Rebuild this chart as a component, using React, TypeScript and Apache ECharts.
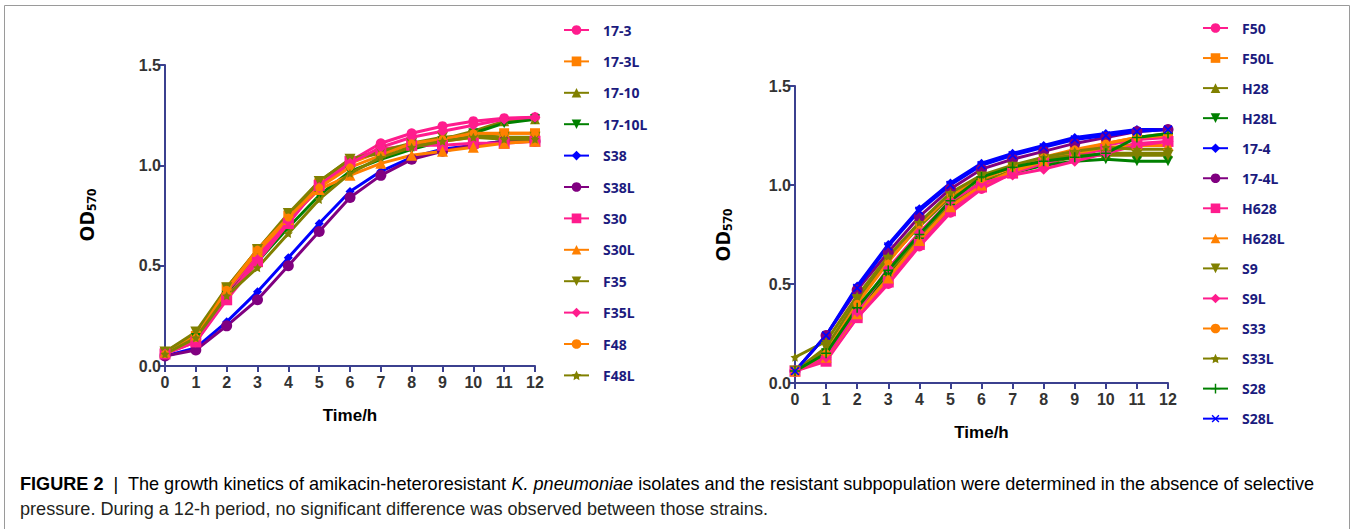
import React, { useEffect, useRef } from "react";
import * as echarts from "echarts";

const hours = [0, 1, 2, 3, 4, 5, 6, 7, 8, 9, 10, 11, 12];
const yTicks = [0, 0.5, 1.0, 1.5];

// Left panel
const leftNames = ["17-3", "17-3L", "17-10", "17-10L", "S38", "S38L", "S30", "S30L", "F35", "F35L", "F48", "F48L"];
const v17_3 = [0.06, 0.13, 0.36, 0.55, 0.73, 0.9, 1.02, 1.11, 1.16, 1.195, 1.22, 1.235, 1.24];
const v17_3L = [0.07, 0.15, 0.39, 0.58, 0.75, 0.91, 1.01, 1.07, 1.1, 1.12, 1.14, 1.16, 1.16];
const v17_10 = [0.07, 0.16, 0.38, 0.57, 0.75, 0.92, 1.03, 1.06, 1.1, 1.13, 1.17, 1.22, 1.23];
const v17_10L = [0.06, 0.14, 0.35, 0.52, 0.69, 0.85, 0.97, 1.03, 1.08, 1.12, 1.16, 1.21, 1.23];
const vS38 = [0.05, 0.09, 0.22, 0.37, 0.54, 0.71, 0.87, 0.97, 1.04, 1.08, 1.1, 1.12, 1.13];
const vS38L = [0.05, 0.08, 0.2, 0.33, 0.5, 0.67, 0.84, 0.95, 1.03, 1.07, 1.1, 1.12, 1.12];
const vS30 = [0.06, 0.12, 0.33, 0.52, 0.71, 0.9, 1.02, 1.08, 1.1, 1.1, 1.11, 1.11, 1.12];
const vS30L = [0.07, 0.15, 0.38, 0.57, 0.73, 0.88, 0.95, 1.01, 1.05, 1.07, 1.09, 1.11, 1.12];
const vF35 = [0.07, 0.17, 0.39, 0.58, 0.76, 0.92, 1.03, 1.07, 1.11, 1.14, 1.15, 1.14, 1.14];
const vF35L = [0.06, 0.12, 0.34, 0.53, 0.72, 0.89, 1.01, 1.09, 1.14, 1.17, 1.2, 1.23, 1.24];
const vF48 = [0.06, 0.14, 0.38, 0.58, 0.74, 0.89, 0.99, 1.05, 1.11, 1.13, 1.16, 1.16, 1.16];
const vF48L = [0.06, 0.14, 0.35, 0.49, 0.66, 0.83, 0.96, 1.04, 1.09, 1.12, 1.14, 1.13, 1.13];
const leftValues = [v17_3, v17_3L, v17_10, v17_10L, vS38, vS38L, vS30, vS30L, vF35, vF35L, vF48, vF48L];

// Right panel
const rightNames = ["F50", "F50L", "H28", "H28L", "17-4", "17-4L", "H628", "H628L", "S9", "S9L", "S33", "S33L", "S28", "S28L"];
const vF50 = [0.06, 0.12, 0.33, 0.5, 0.69, 0.86, 0.98, 1.06, 1.12, 1.16, 1.2, 1.23, 1.24];
const vF50L = [0.06, 0.13, 0.34, 0.52, 0.71, 0.88, 1.0, 1.08, 1.13, 1.17, 1.21, 1.24, 1.25];
const vH28 = [0.06, 0.16, 0.37, 0.55, 0.73, 0.9, 1.02, 1.07, 1.11, 1.14, 1.16, 1.16, 1.16];
const vH28L = [0.06, 0.15, 0.36, 0.54, 0.71, 0.88, 1.01, 1.06, 1.1, 1.12, 1.13, 1.12, 1.12];
const v17_4 = [0.06, 0.24, 0.49, 0.7, 0.88, 1.01, 1.11, 1.16, 1.2, 1.24, 1.26, 1.28, 1.28];
const v17_4L = [0.06, 0.24, 0.47, 0.66, 0.84, 0.98, 1.08, 1.13, 1.17, 1.21, 1.24, 1.27, 1.28];
const vH628 = [0.06, 0.11, 0.33, 0.51, 0.7, 0.87, 0.99, 1.06, 1.11, 1.15, 1.18, 1.21, 1.22];
const vH628L = [0.06, 0.13, 0.35, 0.53, 0.72, 0.89, 1.0, 1.07, 1.12, 1.16, 1.19, 1.2, 1.2];
const vS9 = [0.06, 0.18, 0.42, 0.62, 0.79, 0.94, 1.04, 1.09, 1.13, 1.15, 1.15, 1.15, 1.15];
const vS9L = [0.06, 0.13, 0.36, 0.58, 0.76, 0.92, 1.01, 1.05, 1.08, 1.12, 1.16, 1.2, 1.22];
const vS33 = [0.06, 0.15, 0.4, 0.61, 0.8, 0.95, 1.03, 1.09, 1.14, 1.18, 1.21, 1.24, 1.26];
const vS33L = [0.13, 0.21, 0.44, 0.64, 0.81, 0.96, 1.05, 1.1, 1.14, 1.17, 1.19, 1.18, 1.18];
const vS28 = [0.06, 0.15, 0.38, 0.57, 0.75, 0.92, 1.04, 1.09, 1.12, 1.14, 1.16, 1.24, 1.26];
const vS28L = [0.06, 0.24, 0.48, 0.69, 0.87, 1.0, 1.1, 1.15, 1.19, 1.23, 1.25, 1.27, 1.28];
const rightValues = [vF50, vF50L, vH28, vH28L, v17_4, v17_4L, vH628, vH628L, vS9, vS9L, vS33, vS33L, vS28, vS28L];

const PINK = "#ff1c8d";
const ORANGE = "#ff8000";
const OLIVE = "#808000";
const GREEN = "#008000";
const BLUE = "#0000ff";
const PURPLE = "#800080";
const AXIS = "#3b408f";
const NAVY = "#1b1b7e";

const STAR = "path://M0,-10 L2.94,-4.05 9.51,-3.09 4.76,1.55 5.88,8.09 0,5 -5.88,8.09 -4.76,1.55 -9.51,-3.09 -2.94,-4.05 Z";
const PLUS = "path://M-1.5,-10 H1.5 V-1.5 H10 V1.5 H1.5 V10 H-1.5 V1.5 H-10 V-1.5 H-1.5 Z";

type Sty = { color: string; symbol: string; size: number; rotate?: number };
const leftStyles: Sty[] = [
  { color: PINK, symbol: "circle", size: 10 },
  { color: ORANGE, symbol: "rect", size: 10 },
  { color: OLIVE, symbol: "triangle", size: 10 },
  { color: GREEN, symbol: "triangle", size: 10, rotate: 180 },
  { color: BLUE, symbol: "diamond", size: 9 },
  { color: PURPLE, symbol: "circle", size: 11 },
  { color: PINK, symbol: "rect", size: 11 },
  { color: ORANGE, symbol: "triangle", size: 11 },
  { color: OLIVE, symbol: "triangle", size: 11, rotate: 180 },
  { color: PINK, symbol: "diamond", size: 11 },
  { color: ORANGE, symbol: "circle", size: 8 },
  { color: OLIVE, symbol: STAR, size: 9 },
];
const rightStyles: Sty[] = [
  { color: PINK, symbol: "circle", size: 10 },
  { color: ORANGE, symbol: "rect", size: 10 },
  { color: OLIVE, symbol: "triangle", size: 10 },
  { color: GREEN, symbol: "triangle", size: 10, rotate: 180 },
  { color: BLUE, symbol: "diamond", size: 9 },
  { color: PURPLE, symbol: "circle", size: 11 },
  { color: PINK, symbol: "rect", size: 11 },
  { color: ORANGE, symbol: "triangle", size: 11 },
  { color: OLIVE, symbol: "triangle", size: 11, rotate: 180 },
  { color: PINK, symbol: "diamond", size: 11 },
  { color: ORANGE, symbol: "circle", size: 8 },
  { color: OLIVE, symbol: STAR, size: 9 },
  { color: GREEN, symbol: PLUS, size: 10 },
  { color: BLUE, symbol: PLUS, size: 11, rotate: 45 },
];

function buildSeries(names: string[], values: number[][], styles: Sty[], idx: number) {
  return names.map((name, i) => ({
    type: "line",
    name,
    xAxisIndex: idx,
    yAxisIndex: idx,
    data: hours.map((h, j) => [h, values[i][j]]),
    symbol: styles[i].symbol,
    symbolSize: styles[i].size,
    symbolRotate: styles[i].rotate || 0,
    showAllSymbol: true,
    lineStyle: { color: styles[i].color, width: 3 },
    itemStyle: { color: styles[i].color },
    z: 3,
  }));
}

const FONT = "'Liberation Sans', Arial, sans-serif";

function xAxis(idx: number, nameY: number) {
  return {
    type: "value",
    gridIndex: idx,
    min: 0,
    max: 12,
    interval: 1,
    name: "Time/h",
    nameLocation: "middle",
    nameGap: nameY,
    nameTextStyle: { fontFamily: FONT, fontWeight: "bold", fontSize: 17, color: "#000" },
    axisLine: { lineStyle: { color: AXIS, width: 2 } },
    axisTick: { lineStyle: { color: AXIS, width: 2 }, length: 6 },
    axisLabel: { fontFamily: FONT, fontWeight: "bold", fontSize: 16, color: "#333", margin: 8 },
    splitLine: { show: false },
  };
}
function yAxis(idx: number) {
  return {
    type: "value",
    gridIndex: idx,
    min: 0,
    max: 1.5,
    interval: 0.5,
    axisLine: { show: true, lineStyle: { color: AXIS, width: 2 } },
    axisTick: { show: true, lineStyle: { color: AXIS, width: 2 }, length: 6 },
    axisLabel: {
      fontFamily: FONT,
      fontWeight: "bold",
      fontSize: 16,
      color: "#333",
      margin: 4,
      formatter: (v: number) => (yTicks.indexOf(v) >= 0 ? v.toFixed(1) : ""),
    },
    splitLine: { show: false },
  };
}

function legend(data: string[], left: number, top: number, gap: number) {
  return {
    orient: "vertical",
    left,
    top,
    data,
    itemWidth: 25,
    itemHeight: 12,
    itemGap: gap,
    textStyle: {
      fontFamily: "'Noto Sans', 'Open Sans', sans-serif",
      fontWeight: "bold",
      fontSize: 14,
      color: NAVY,
      padding: [0, 0, 0, 9],
    },
  };
}

function odTitle(x: number, y: number) {
  return {
    type: "text",
    x,
    y,
    rotation: Math.PI / 2,
    style: {
      text: "{a|OD}{b|570}",
      align: "center",
      verticalAlign: "middle",
      rich: {
        a: { fontFamily: "'Noto Sans', sans-serif", fontWeight: "bold", fontSize: 20, color: "#000" },
        b: { fontFamily: "'Noto Sans', sans-serif", fontWeight: "bold", fontSize: 13, color: "#000", padding: [10, 0, 0, 0] },
      },
    },
  };
}

const CAP = 18.1;

export default function App() {
  const ref = useRef<HTMLDivElement>(null);
  useEffect(() => {
    if (!ref.current) return;
    const chart = echarts.init(ref.current, null, { renderer: "svg" });
    chart.setOption({
      animation: false,
      backgroundColor: "#fff",
      grid: [
        { left: 165, top: 65, width: 370, height: 301 },
        { left: 795, top: 86, width: 373, height: 297 },
      ],
      xAxis: [xAxis(0, 41), xAxis(1, 41)],
      yAxis: [yAxis(0), yAxis(1)],
      legend: [legend(leftNames, 558, 18, 17.4), legend(rightNames, 1197, 16, 16.05)],
      series: [...buildSeries(leftNames, leftValues, leftStyles, 0), ...buildSeries(rightNames, rightValues, rightStyles, 1)],
      graphic: [
        {
          type: "rect",
          shape: { x: 4.5, y: 5.5, width: 1345, height: 600 },
          style: { fill: "none", stroke: "#9a9a9a", lineWidth: 1 },
          silent: true,
        },
        odTitle(86, 215),
        odTitle(722, 235),
        {
          type: "text",
          x: 20,
          y: 484,
          style: {
            text: "{b|FIGURE 2}{n|  |  The growth kinetics of amikacin-heteroresistant }{i|K. pneumoniae}{n| isolates and the resistant subpopulation were determined in the absence of selective}",
            verticalAlign: "middle",
            rich: {
              b: { fontFamily: FONT, fontWeight: "bold", fontSize: CAP, color: "#231f20" },
              n: { fontFamily: FONT, fontSize: CAP, color: "#231f20" },
              i: { fontFamily: FONT, fontStyle: "italic", fontSize: CAP, color: "#231f20" },
            },
          },
        },
        {
          type: "text",
          x: 20,
          y: 509,
          style: {
            text: "pressure. During a 12-h period, no significant difference was observed between those strains.",
            verticalAlign: "middle",
            fontFamily: FONT,
            fontSize: CAP,
            fill: "#231f20",
          },
        },
      ],
    });
    return () => chart.dispose();
  }, []);
  return <div ref={ref} style={{ position: "fixed", left: 0, top: 0, width: 1353, height: 529 }} />;
}
